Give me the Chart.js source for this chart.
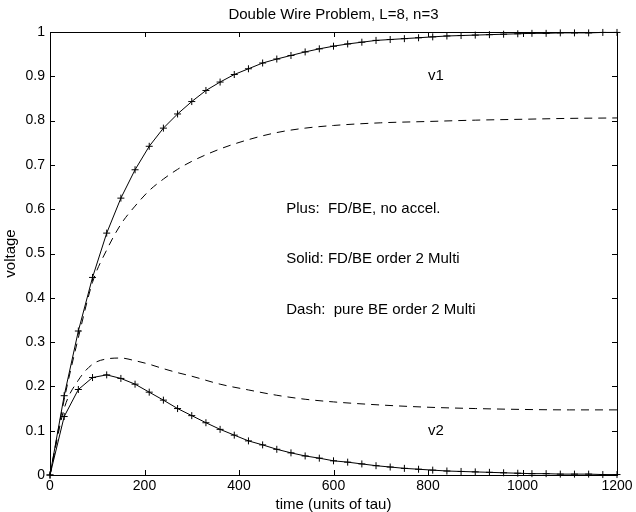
<!DOCTYPE html>
<html>
<head>
<meta charset="utf-8">
<script src="https://cdn.jsdelivr.net/npm/chart.js@4.4.1/dist/chart.umd.min.js"></script>
<style>
  body { margin: 0; background: #fff; }
  canvas { display: block; }
</style>
</head>
<body>
<canvas id="myChart" width="636" height="512"></canvas>
<script>

/* =====================
  data
===================== */

// plus markers / solid line : every 30 tau
var tPlus = [0, 30, 60, 90, 120, 150, 180, 210, 240, 270,
             300, 330, 360, 390, 420, 450, 480, 510, 540, 570,
             600, 630, 660, 690, 720, 750, 780, 810, 840, 870,
             900, 930, 960, 990, 1020, 1050, 1080, 1110, 1140, 1170, 1200];

var v1Plus = [0, 0.179, 0.325, 0.446, 0.546, 0.625, 0.689, 0.742, 0.783, 0.815,
              0.843, 0.868, 0.887, 0.904, 0.917, 0.930, 0.939, 0.947, 0.955, 0.962,
              0.968, 0.973, 0.977, 0.981, 0.983, 0.985, 0.987, 0.989, 0.991, 0.992,
              0.993, 0.994, 0.995, 0.996, 0.997, 0.997, 0.998, 0.998, 0.998, 0.999, 0.999];

var v2Plus = [0, 0.132, 0.193, 0.220, 0.226, 0.218, 0.205, 0.187, 0.169, 0.150,
              0.134, 0.118, 0.103, 0.090, 0.077, 0.068, 0.058, 0.050, 0.043, 0.038,
              0.032, 0.029, 0.025, 0.021, 0.018, 0.015, 0.013, 0.011, 0.009, 0.008,
              0.007, 0.006, 0.005, 0.004, 0.003, 0.003, 0.002, 0.002, 0.002, 0.001, 0.001];

// dashed : pure BE
var tDash = [0, 30, 60, 90, 120, 150, 180, 210, 240, 270, 300,
             360, 420, 480, 540, 600, 700, 800, 900, 1000, 1100, 1200];

var v1Dash = [0, 0.17, 0.31, 0.435, 0.508, 0.566, 0.607, 0.642, 0.668, 0.690, 0.708,
              0.736, 0.757, 0.773, 0.783, 0.789, 0.795, 0.798, 0.801, 0.803, 0.805, 0.806];

var v2Dash = [0, 0.15, 0.214, 0.250, 0.262, 0.264, 0.258, 0.250, 0.240, 0.231, 0.223,
              0.205, 0.192, 0.180, 0.171, 0.165, 0.158, 0.153, 0.150, 0.148, 0.147, 0.147];

var xTicks = [0, 200, 400, 600, 800, 1000, 1200];
var xTickLabels = ['0', '200', '400', '600', '800', '1000', '1200'];
var yTicks = [0, 0.1, 0.2, 0.3, 0.4, 0.5, 0.6, 0.7, 0.8, 0.9, 1];
var yTickLabels = ['0', '0.1', '0.2', '0.3', '0.4', '0.5', '0.6', '0.7', '0.8', '0.9', '1'];

// text placed in data units
var notes = [
  { text: 'v1', x: 800, y: 0.9 },
  { text: 'v2', x: 800, y: 0.1 },
  { text: 'Plus:  FD/BE, no accel.', x: 500, y: 0.6 },
  { text: 'Solid: FD/BE order 2 Multi', x: 500, y: 0.487 },
  { text: 'Dash:  pure BE order 2 Multi', x: 500, y: 0.373 }
];

var FONT = '"Liberation Sans", Arial, Helvetica, sans-serif';

var toPoints = function(xs, ys) {
  return xs.map(function(x, i) { return { x: x, y: ys[i] }; });
};

/* =====================
  box, inward ticks, notes
===================== */

var framePlugin = {
  id: 'frame',
  afterDraw: function(chart) {
    var ctx = chart.ctx;
    var a = chart.chartArea;
    var sx = chart.scales.x;
    var sy = chart.scales.y;
    var len = 5;

    ctx.save();
    ctx.strokeStyle = '#000';
    ctx.lineWidth = 1;
    ctx.strokeRect(a.left + 0.5, a.top + 0.5, a.right - a.left, a.bottom - a.top);

    ctx.beginPath();
    xTicks.forEach(function(v) {
      var px = Math.round(sx.getPixelForValue(v)) + 0.5;
      ctx.moveTo(px, a.bottom); ctx.lineTo(px, a.bottom - len);
      ctx.moveTo(px, a.top); ctx.lineTo(px, a.top + len);
    });
    yTicks.forEach(function(v) {
      var py = Math.round(sy.getPixelForValue(v)) + 0.5;
      ctx.moveTo(a.left, py); ctx.lineTo(a.left + len, py);
      ctx.moveTo(a.right, py); ctx.lineTo(a.right - len, py);
    });
    ctx.stroke();

    ctx.fillStyle = '#000';
    ctx.font = '15px ' + FONT;
    ctx.textAlign = 'left';
    ctx.textBaseline = 'middle';
    notes.forEach(function(n) {
      ctx.fillText(n.text, sx.getPixelForValue(n.x), sy.getPixelForValue(n.y));
    });
    ctx.restore();
  }
};

/* =====================
  chart
===================== */

var plusStyle = {
  borderColor: '#000',
  backgroundColor: '#000',
  borderWidth: 1,
  pointStyle: 'cross',
  pointRadius: 3.5,
  pointBorderWidth: 1,
  pointBorderColor: '#000',
  tension: 0,
  clip: false
};

var dashStyle = {
  borderColor: '#000',
  borderWidth: 1,
  borderDash: [8, 6],
  pointRadius: 0,
  cubicInterpolationMode: 'monotone',
  clip: false
};

var config = {
  type: 'line',
  data: {
    datasets: [
      Object.assign({ label: 'v1 FD/BE', data: toPoints(tPlus, v1Plus) }, plusStyle),
      Object.assign({ label: 'v2 FD/BE', data: toPoints(tPlus, v2Plus) }, plusStyle),
      Object.assign({ label: 'v1 pure BE', data: toPoints(tDash, v1Dash) }, dashStyle),
      Object.assign({ label: 'v2 pure BE', data: toPoints(tDash, v2Dash) }, dashStyle)
    ]
  },
  options: {
    responsive: false,
    animation: false,
    layout: { padding: { left: 0, right: 19, top: 0, bottom: 0 } },
    plugins: {
      legend: { display: false },
      tooltip: { enabled: false },
      title: {
        display: true,
        fullSize: false,
        text: 'Double Wire Problem, L=8, n=3',
        color: '#000',
        font: { family: FONT, size: 15, weight: 'normal', lineHeight: 1.2 },
        padding: { top: 6, bottom: 8 }
      }
    },
    scales: {
      x: {
        type: 'linear',
        min: 0,
        max: 1200,
        grid: { display: false, drawTicks: false },
        border: { display: false },
        afterBuildTicks: function(scale) {
          scale.ticks = xTicks.map(function(v) { return { value: v }; });
        },
        afterFit: function(scale) {
          scale.height = 37;
          scale.paddingLeft = 0; scale.paddingRight = 0;
        },
        ticks: {
          color: '#000',
          padding: 3,
          maxRotation: 0,
          autoSkip: false,
          font: { family: FONT, size: 14 },
          callback: function(v) {
            var i = xTicks.indexOf(v);
            return i < 0 ? '' : xTickLabels[i];
          }
        },
        title: {
          display: true,
          text: 'time (units of tau)',
          color: '#000',
          font: { family: FONT, size: 15, lineHeight: 1 },
          padding: { top: 0, bottom: 0 }
        }
      },
      y: {
        type: 'linear',
        min: 0,
        max: 1,
        grid: { display: false, drawTicks: false },
        border: { display: false },
        afterBuildTicks: function(scale) {
          scale.ticks = yTicks.map(function(v) { return { value: v }; });
        },
        afterFit: function(scale) {
          scale.width = 50;
          scale.paddingTop = 0; scale.paddingBottom = 0;
        },
        ticks: {
          color: '#000',
          padding: 5,
          autoSkip: false,
          font: { family: FONT, size: 14 },
          callback: function(v) {
            var i = yTicks.indexOf(v);
            return i < 0 ? '' : yTickLabels[i];
          }
        },
        title: {
          display: true,
          text: 'voltage',
          color: '#000',
          font: { family: FONT, size: 15, lineHeight: 1.2 },
          padding: { top: 2, bottom: 0 }
        }
      }
    }
  },
  plugins: [framePlugin]
};

var can = document.getElementById('myChart');
var ctx = can.getContext('2d');
var myChart = new Chart(ctx, config);

</script>
</body>
</html>
